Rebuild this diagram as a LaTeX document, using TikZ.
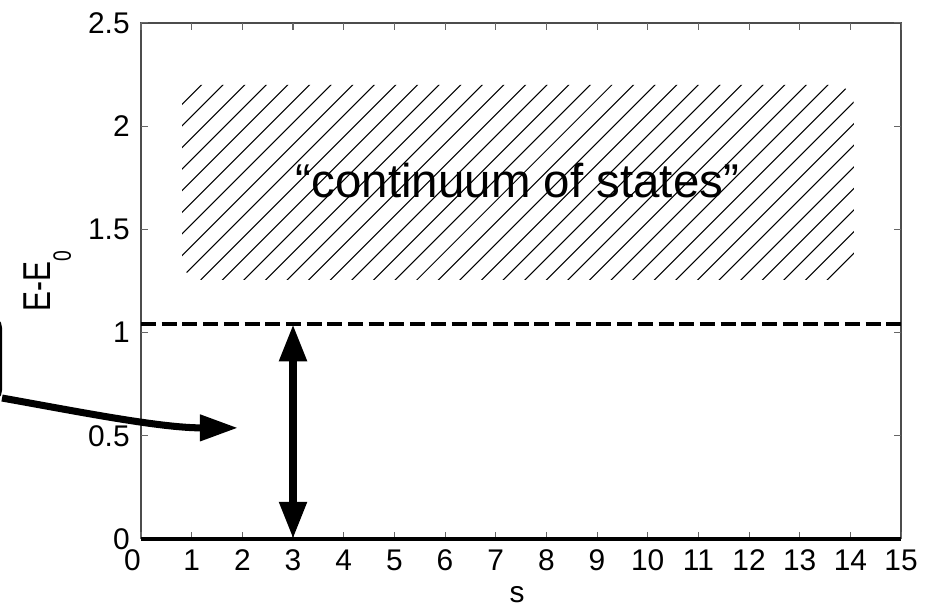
\documentclass[tikz,border=0pt]{standalone}
\usepackage{fontspec}
\setmainfont{Liberation Sans}
\usetikzlibrary{arrows.meta,positioning}

\begin{document}
\begin{tikzpicture}[x=1.01333cm,y=4.128cm,
    ticklabel/.style={font=\fontsize{17}{17}\selectfont,inner sep=0pt},
    axisline/.style={draw=black!70,line width=1pt},
    tickmark/.style={draw=black!60,line width=0.6pt},
    gaptip/.style={line width=4.5pt,{Triangle[length=0.74cm,width=0.52cm]}-{Triangle[length=0.74cm,width=0.52cm]}},
    bentarrow/.style={line width=4pt,-{Triangle[length=0.76cm,width=0.5cm]}}]
    \useasboundingbox (-2.783,-0.3343) rectangle (15.749,2.611);
    \fill[white] (-2.783,-0.3343) rectangle (15.749,2.611);
    % hatched band (continuum)
    \begin{scope}
      \clip[rounded corners=0.4cm] (0.81,1.255) rectangle (14.07,2.2);
      \begin{scope}[x=1cm,y=1cm]
        \foreach \k in {-2,...,40}
          \draw[line width=0.6pt] (1.66+0.432*\k-5,4.1) -- ++(6,6);
      \end{scope}
    \end{scope}
    \node[font=\fontsize{27}{27}\selectfont,inner sep=0pt,anchor=base] (cont) at (7.43,1.652) {``continuum of states''};
    % axes box
    \draw[axisline] (0,0) |- (15,2.5) -- (15,0);
    \foreach \s in {0,...,15}{
      \draw[tickmark] (\s,0) -- ++(0,0.034);
      \draw[tickmark] (\s,2.5) -- ++(0,-0.034);
    }
    \foreach \s in {1,...,15}
      \node[ticklabel,anchor=base] (xt\s) at (\s,-0.155) {\s};
    \node[ticklabel,anchor=base] (xt0) at (-0.17,-0.155) {0};
    \foreach \e [count=\i] in {0,0.5,1,1.5,2,2.5}{
      \draw[tickmark] (0,\e) -- ++(0.138,0);
      \draw[tickmark] (15,\e) -- ++(-0.138,0);
      \node[ticklabel,anchor=east] (yt\i) at (-0.217,\e) {\e};
    }
    \draw[line width=2pt] (0,0) -- (15,0);
    \node[ticklabel,anchor=base] (xlab) at (7.42,-0.31) {s};
    \node[ticklabel,rotate=90] (ylab) at (-1.845,1.2476)
      {\scalebox{1}[1.3]{E-E\raisebox{-8.8pt}{\fontsize{11}{11}\selectfont 0}}};
    % gap level
    \draw[line width=2.3pt,dash pattern=on 0.3cm off 0.114cm] (0,1.04) -- (15,1.04);
    \coordinate (gapbot) at (3,0);
    \coordinate (gaptop) at (3,1.04);
    \draw[gaptip] (gapbot) -- (gaptop);
    % box cut by the page edge, pointing into the gap
    \node[draw,line width=3.5pt,rounded corners=0.2cm,minimum width=4cm,minimum height=1.64cm,anchor=east] (note) at (-2.743,0.872) {};
    \coordinate (tip) at (1.914,0.538);
    \draw[bentarrow] ([yshift=0.1cm]note.south east) .. controls (-1.204,0.615) and (0.375,0.538) .. (tip);
\end{tikzpicture}
\end{document}
